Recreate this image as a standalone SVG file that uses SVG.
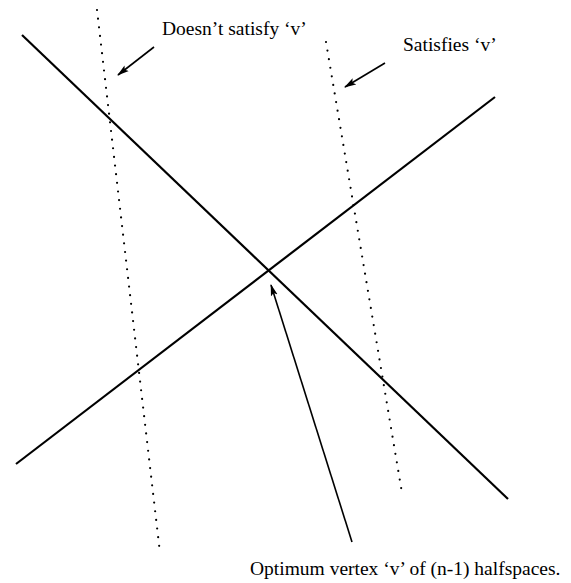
<svg xmlns="http://www.w3.org/2000/svg" width="571" height="583" viewBox="0 0 571 583">
<style>
.line{stroke:#000;stroke-width:2.2;fill:none}
.dot{stroke:#000;stroke-width:2.2;fill:none;stroke-linecap:round;stroke-dasharray:0 8.7}
.arr{stroke:#000;stroke-width:1.6;fill:none;marker-end:url(#ah)}
.lbl{font-size:19.5px;fill:#000}
</style>
<defs>
<marker id="ah" viewBox="0 0 12 8" refX="11" refY="4" markerWidth="12" markerHeight="8" markerUnits="userSpaceOnUse" orient="auto">
<path d="M0,0.5 L12,4 L0,7.5 L2.5,4 Z" fill="#000"/>
</marker>
</defs>
<rect width="571" height="583" fill="#fff"/>
<g id="connectors">
<line class="line" x1="22" y1="35" x2="508" y2="499"/>
<line class="line" x1="16" y1="464" x2="495" y2="97"/>
<line class="dot" x1="97" y1="10" x2="160" y2="553"/>
<line class="dot" x1="326" y1="42" x2="402" y2="493"/>
<line class="arr" x1="154" y1="47" x2="118" y2="75"/>
<line class="arr" x1="385" y1="63" x2="345" y2="87"/>
<line class="arr" x1="352" y1="542" x2="271" y2="285"/>
</g>
<g font-family="Liberation Serif, serif">
<g id="label-doesnt"><text class="lbl" x="162" y="35">Doesn’t satisfy ‘v’</text></g>
<g id="label-satisfies"><text class="lbl" x="403" y="51">Satisfies ‘v’</text></g>
<g id="label-optimum"><text class="lbl" x="250" y="575">Optimum vertex ‘v’ of (n-1) halfspaces.</text></g>
</g>
</svg>
